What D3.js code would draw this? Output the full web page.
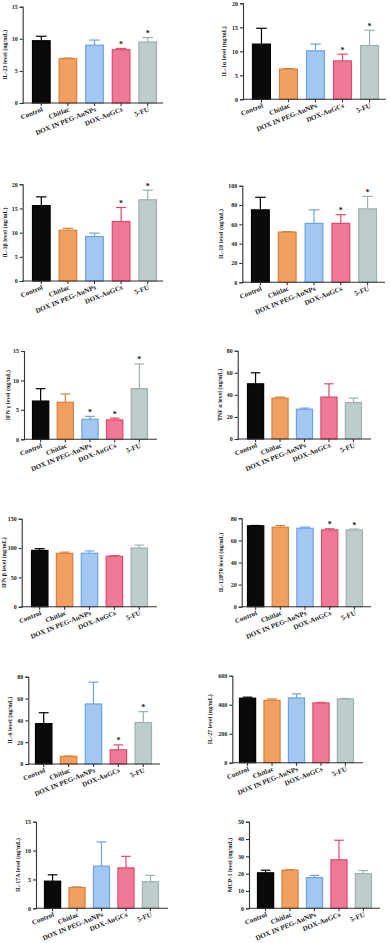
<!DOCTYPE html>
<html>
<head>
<meta charset="utf-8">
<script src="https://cdn.jsdelivr.net/npm/d3@7"></script>
<style>
  body { margin: 0; background: #fff; }
  text { font-family: "Liberation Serif", "DejaVu Serif", serif; font-weight: bold; fill: #222; }
</style>
</head>
<body>
<script>
// groups on the x axis
var groups = ["Control", "Chitlac", "DOX IN PEG-AuNPs", "DOX-AuGCs", "5-FU"];

var yTitles = ["IL-23 level (ng/mL)", "IL-1\u03b1 level (ng/mL)", "IL-1\u03b2 level (ng/mL)", "IL-10 level (ng/mL)",
               "IFN \u03b3 level (ng/mL)", "TNF \u03b1 level (ng/mL)", "IFN \u03b2 level (ng/mL)", "IL-12P70 level (ng/mL)",
               "IL-6 level (ng/mL)", "IL-27 level (ng/mL)", "IL-17A level (ng/mL)", "MCP-1 level (ng/mL)"];

var yMax  = [15, 20, 20, 100, 15, 80, 150, 80, 80, 600, 15, 50];
var yStep = [5, 5, 5, 20, 5, 20, 50, 20, 20, 200, 5, 10];

var means = [[9.7, 6.9, 9.0, 8.3, 9.5],
             [11.5, 6.3, 10.1, 8.0, 11.2],
             [15.6, 10.5, 9.2, 12.3, 16.8],
             [75, 52, 61, 61, 76],
             [6.5, 6.3, 3.4, 3.3, 8.6],
             [50, 37, 27, 38, 33],
             [96, 91, 91, 86, 100],
             [73.2, 72, 71, 69.5, 69.5],
             [37, 7, 55, 13, 38],
             [445, 430, 447, 412, 440],
             [4.7, 3.6, 7.3, 7.0, 4.6],
             [20.5, 22, 17.7, 28, 20]];

var errs = [[0.7, 0.1, 0.8, 0.2, 0.7],
            [3.3, 0.1, 1.4, 1.4, 3.2],
            [1.8, 0.4, 0.7, 2.9, 2.0],
            [13, 0.5, 14, 9, 13],
            [2.1, 1.4, 0.5, 0.3, 4.2],
            [10, 1, 1, 12, 4],
            [3, 2, 4, 1, 5],
            [0.3, 1.5, 1, 1, 0.8],
            [10, 0.3, 20, 4.5, 10],
            [7, 10, 28, 4, 3],
            [1.1, 0.1, 4.2, 2.0, 1.1],
            [1.5, 0.3, 1.3, 11.3, 1.8]];

var stars = [[0,0,0,1,1], [0,0,0,1,1], [0,0,0,1,1], [0,0,0,1,1],
             [0,0,1,1,1], [0,0,0,0,0], [0,0,0,0,0], [0,0,0,1,1],
             [0,0,0,1,1], [0,0,0,0,0], [0,0,0,0,0], [0,0,0,0,0]];

// layout of each panel: axis x, bars left/right, axis end, top, bottom, title offset
var layout = [
  { ax: 22.7, bl: 32,  br: 157, ae: 163, top: 6.7,   bot: 103,   lo: 16 },
  { ax: 243,  bl: 252, br: 379, ae: 386, top: 3.3,   bot: 99.3,  lo: 17 },
  { ax: 22.7, bl: 32,  br: 157, ae: 163, top: 184.3, bot: 281,   lo: 16 },
  { ax: 242.3,bl: 251, br: 377, ae: 385, top: 185.7, bot: 282.3, lo: 19 },
  { ax: 24,   bl: 32,  br: 148, ae: 157, top: 351,   bot: 439.3, lo: 14 },
  { ax: 237.7,bl: 247, br: 362, ae: 371, top: 350.7, bot: 439,   lo: 16 },
  { ax: 21.7, bl: 31,  br: 148, ae: 157, top: 518.7, bot: 606.7, lo: 16 },
  { ax: 241.7,bl: 247, br: 363, ae: 371, top: 518.3, bot: 606.7, lo: 19 },
  { ax: 28.3, bl: 35,  br: 152, ae: 160, top: 676.7, bot: 764,   lo: 16 },
  { ax: 232.3,bl: 239, br: 354, ae: 363, top: 675.7, bot: 762.7, lo: 20 },
  { ax: 36,   bl: 44,  br: 159, ae: 168, top: 821.7, bot: 908.3, lo: 16 },
  { ax: 249,  bl: 257, br: 372, ae: 380, top: 821.7, bot: 908.3, lo: 17 }
];

var fills   = ["#0a0a0a", "#f2a062", "#a2c8f2", "#ef7a98", "#bfcccc"];
var strokes = ["#000000", "#d4823e", "#6ea2de", "#e04a6c", "#9fb0b0"];

var svg = d3.select("body").append("svg")
            .attr("width", 390)
            .attr("height", 943);

layout.forEach(function(L, i) {
  var g = svg.append("g");

  var x = d3.scaleBand()
            .domain(groups)
            .range([L.bl, L.br])
            .paddingInner(0.3);

  var y = d3.scaleLinear()
            .domain([0, yMax[i]])
            .range([L.bot, L.top]);

  var rows = groups.map(function(name, j) {
    return { name: name, v: means[i][j], e: errs[i][j], s: stars[i][j], k: j };
  });

  // bars
  g.selectAll("rect")
   .data(rows)
   .enter()
   .append("rect")
   .attr("x", function(d) { return x(d.name) + 0.5; })
   .attr("y", function(d) { return y(d.v); })
   .attr("width", x.bandwidth() - 1)
   .attr("height", function(d) { return L.bot - y(d.v); })
   .attr("fill", function(d) { return fills[d.k]; })
   .attr("stroke", function(d) { return strokes[d.k]; })
   .attr("stroke-width", 1.2);

  // error bars (upper only)
  var cw = x.bandwidth() * 0.28;
  rows.forEach(function(d) {
    var cx = x(d.name) + x.bandwidth() / 2;
    g.append("line")
     .attr("x1", cx).attr("x2", cx)
     .attr("y1", y(d.v)).attr("y2", y(d.v + d.e))
     .attr("stroke", strokes[d.k])
     .attr("stroke-width", 1.2);
    g.append("line")
     .attr("x1", cx - cw).attr("x2", cx + cw)
     .attr("y1", y(d.v + d.e)).attr("y2", y(d.v + d.e))
     .attr("stroke", strokes[d.k])
     .attr("stroke-width", 1.2);
    if (d.s) {
      g.append("text")
       .attr("x", cx)
       .attr("y", y(d.v + d.e) - 1.5)
       .attr("text-anchor", "middle")
       .attr("font-size", 8)
       .text("*");
    }
  });

  // y axis
  var ticks = d3.range(0, yMax[i] + 0.001, yStep[i]);
  var yAxis = g.append("g")
               .attr("transform", "translate(" + L.ax + ",0)")
               .call(d3.axisLeft(y).tickValues(ticks).tickSize(3).tickPadding(2).tickFormat(d3.format("d")));
  yAxis.selectAll("text").attr("font-size", 6).attr("font-family", null).style("fill", "#222");
  yAxis.selectAll("line, path").attr("stroke", "#333").attr("stroke-width", 1.1);

  // x axis
  var xAxis = g.append("g")
               .attr("transform", "translate(0," + L.bot + ")");
  xAxis.append("line")
       .attr("x1", L.ax).attr("x2", L.ae)
       .attr("y1", 0).attr("y2", 0)
       .attr("stroke", "#333").attr("stroke-width", 1.1);
  xAxis.selectAll(".tk")
       .data(groups)
       .enter()
       .append("line")
       .attr("x1", function(d) { return x(d) + x.bandwidth() / 2; })
       .attr("x2", function(d) { return x(d) + x.bandwidth() / 2; })
       .attr("y1", 0).attr("y2", 3)
       .attr("stroke", "#333").attr("stroke-width", 1.1);
  xAxis.selectAll(".lb")
       .data(groups)
       .enter()
       .append("text")
       .attr("text-anchor", "end")
       .attr("font-size", 7)
       .attr("transform", function(d) {
         return "translate(" + (x(d) + x.bandwidth() / 2 + 2) + ",8) rotate(-22)";
       })
       .text(function(d) { return d; });

  // y title
  g.append("text")
   .attr("text-anchor", "middle")
   .attr("font-size", 6)
   .attr("transform", "translate(" + (L.ax - L.lo) + "," + ((L.top + L.bot) / 2) + ") rotate(-90)")
   .text(yTitles[i]);
});
</script>
</body>
</html>
